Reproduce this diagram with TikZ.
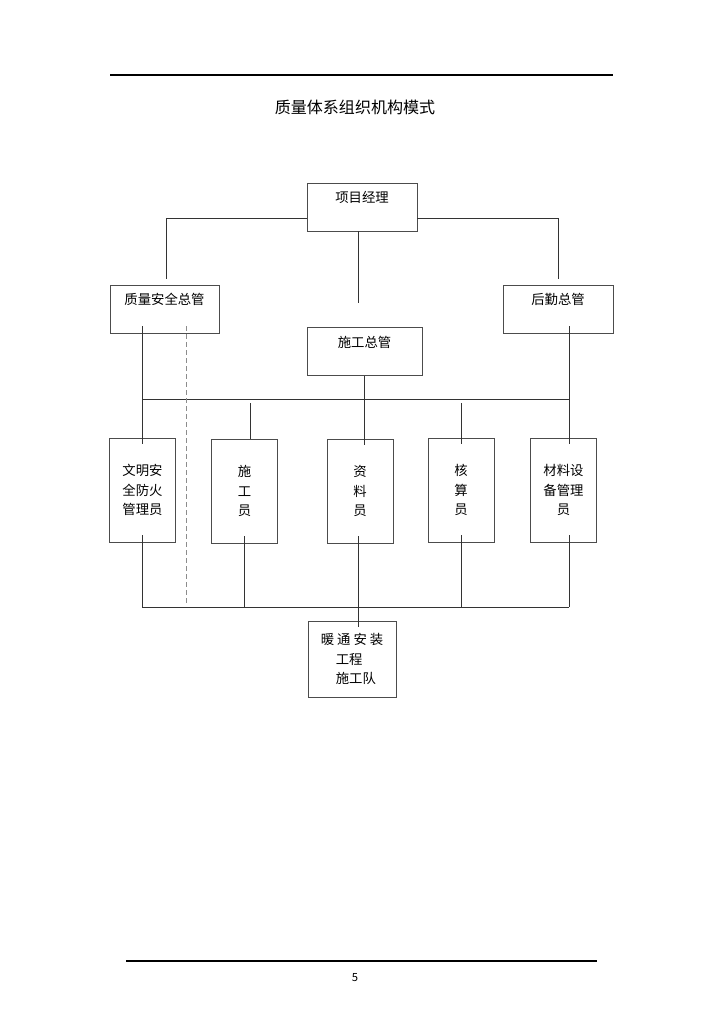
\documentclass[tikz,border=0pt]{standalone}
\usepackage{fontspec}
\setmainfont{Noto Sans CJK SC}
\begin{document}
\begin{tikzpicture}[x=0.025cm, y=-0.025cm,
        box/.style={rectangle, draw=black!70, line width=0.65pt, inner sep=0pt, align=center, font=\fontsize{9.5}{14}\selectfont},
        headbox/.style={box, text height=0.5cm, text depth=0.7cm},
        staffbox/.style={box, minimum width=1.65cm, minimum height=2.6cm},
        line/.style={draw=black!80, line width=0.65pt},
        stub/.style={shorten <=-0.18cm},
        dip/.style={shorten >=-0.16cm}
    ]
        \useasboundingbox (0,0) rectangle (724,1024);

        % Page rules and title
        \draw[line width=1pt] (110,75) -- (613,75);
        \node (title) [font=\fontsize{11.4}{14}\selectfont] at (355,107) {质量体系组织机构模式};

        % Managers
        \node (pm) [headbox, minimum width=2.75cm] at (362,207) {项目经理};
        \node (zl) [headbox, minimum width=2.725cm] at (164.5,309) {质量安全总管};
        \node (hq) [headbox, minimum width=2.75cm] at (558,309) {后勤总管};
        \node (sg) [headbox, minimum width=2.875cm] at (364.5,351.5) {施工总管};

        % Staff
        \node (wm) [staffbox] at (142.5,490) {文明安\\全防火\\管理员};
        \node (sgy) [staffbox] at (244.5,491) {施\\工\\员};
        \node (zly) [staffbox] at (360,491) {资\\料\\员};
        \node (hs) [staffbox] at (461,490) {核\\算\\员};
        \node (cl) [staffbox] at (563.5,490) {材料设\\备管理\\员};

        % Team
        \node (nt) [box, minimum width=2.2cm, minimum height=1.9cm, align=left] at (352,659) {暖 通 安 装\\\hspace*{0.375cm}工程\\\hspace*{0.375cm}施工队};

        % Bus ends
        \coordinate (busl) at (142,399);
        \coordinate (busr) at (569,399);
        \coordinate (botl) at (142,607);
        \coordinate (botr) at (569,607);

        % Manager links
        \draw[line, shorten >=0.15cm] ([yshift=-0.275cm]pm.west) -| ([xshift=0.06cm]zl.north);
        \draw[line, shorten >=0.15cm] ([yshift=-0.275cm]pm.east) -| (hq.north);
        \draw[line, shorten >=0.6cm] ([xshift=-0.1cm]pm.south) -- ([xshift=-0.1cm]pm.south |- sg.north);

        % Upper bus
        \draw[line] (busl) -- (busr);
        \draw[line, stub, dip] (zl.south -| busl) -- (wm.north -| busl);
        \draw[line, stub, dip] (hq.south -| busr) -- (cl.north -| busr);
        \draw[line, dip] (sg.south) -- (sg.south |- zly.north);
        \draw[line, shorten <=0.1cm] ([xshift=0.14cm]sgy.north |- busl) -- ([xshift=0.14cm]sgy.north);
        \draw[line, shorten <=0.1cm, dip] (hs.north |- busl) -- (hs.north);

        % Lower bus
        \draw[line] (botl) -- (botr);
        \draw[line, stub] (wm.south) -- (wm.south |- botl);
        \draw[line, stub] (sgy.south) -- (sgy.south |- botl);
        \draw[line, stub] (hs.south) -- (hs.south |- botl);
        \draw[line, stub] (cl.south -| botr) -- (botr);
        \draw[line, stub, dip] ([xshift=-0.05cm]zly.south) -- ([xshift=-0.05cm]zly.south |- nt.north);

        % Dashed link
        \draw[draw=black!45, line width=0.7pt, dash pattern=on 0.12cm off 0.08cm, stub, shorten >=0.1cm] ([xshift=0.56cm]zl.south) -- ([xshift=0.56cm]zl.south |- botl);

        % Footer
        \draw[line width=0.9pt] (126,961) -- (597,961);
        \node (page) [font=\fontsize{8}{10}\selectfont] at (355,978) {5};
    \end{tikzpicture}
\end{document}
